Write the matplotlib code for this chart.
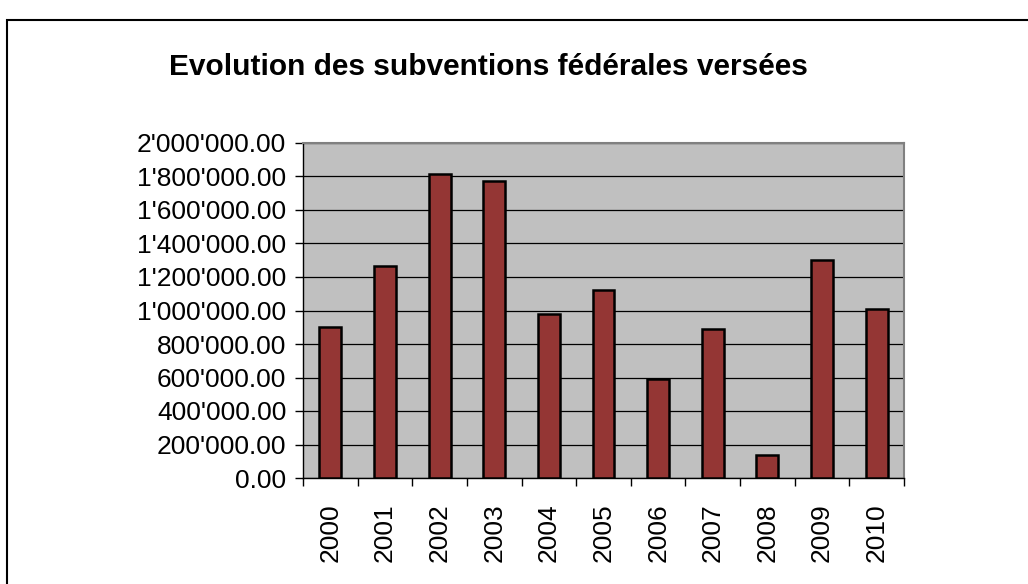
import numpy as np
import matplotlib.pyplot as plt
from matplotlib.patches import Rectangle
from matplotlib.ticker import FuncFormatter

plt.rcParams['font.family'] = ['Liberation Sans', 'DejaVu Sans']

# Données
annees = ['2000', '2001', '2002', '2003', '2004', '2005',
          '2006', '2007', '2008', '2009', '2010']
subventions = [903000, 1267000, 1815000, 1773000, 981000, 1121000,
               591000, 891000, 137000, 1300000, 1007000]


def format_chf(v, pos):
    s = f"{v:,.2f}"
    return s.replace(',', "'")


fig = plt.figure(figsize=(10.28, 5.84), dpi=100)

# cadre extérieur (coupé à droite et en bas)
fig.patches.append(Rectangle((7 / 1028, -0.05), 1.1, 0.05 + (584 - 20) / 584,
                             transform=fig.transFigure, fill=False,
                             edgecolor='black', linewidth=1.5))

ax = fig.add_axes([303 / 1028, (584 - 478) / 584, 601 / 1028, 335 / 584])
ax.set_facecolor('#c0c0c0')

x = np.arange(len(annees))
ax.bar(x, subventions, width=0.4, color='#943634',
       edgecolor='black', linewidth=1.8, zorder=3)

ax.set_xlim(-0.5, len(annees) - 0.5)
ax.set_ylim(0, 2000000)
ax.set_yticks(np.arange(0, 2000001, 200000))
ax.yaxis.set_major_formatter(FuncFormatter(format_chf))
ax.grid(axis='y', color='black', linewidth=0.9, zorder=1)

ax.set_xticks(x)
ax.set_xticklabels(annees, rotation=90)
ax.set_xticks(np.arange(-0.5, len(annees)), minor=True)
ax.tick_params(axis='x', which='major', length=0, pad=18, labelsize=19)
ax.tick_params(axis='x', which='minor', length=6, width=1, direction='out')
ax.tick_params(axis='y', length=6, width=1, direction='out', pad=6, labelsize=19)

for side in ['top', 'right']:
    ax.spines[side].set_color('#808080')
    ax.spines[side].set_linewidth(1.5)
for side in ['left', 'bottom']:
    ax.spines[side].set_color('black')
    ax.spines[side].set_linewidth(1)

fig.text(488 / 1028, 1 - 67 / 584, 'Evolution des subventions fédérales versées',
         ha='center', va='center', fontsize=21.5, fontweight='bold')

fig.savefig('out.png', dpi=100)
